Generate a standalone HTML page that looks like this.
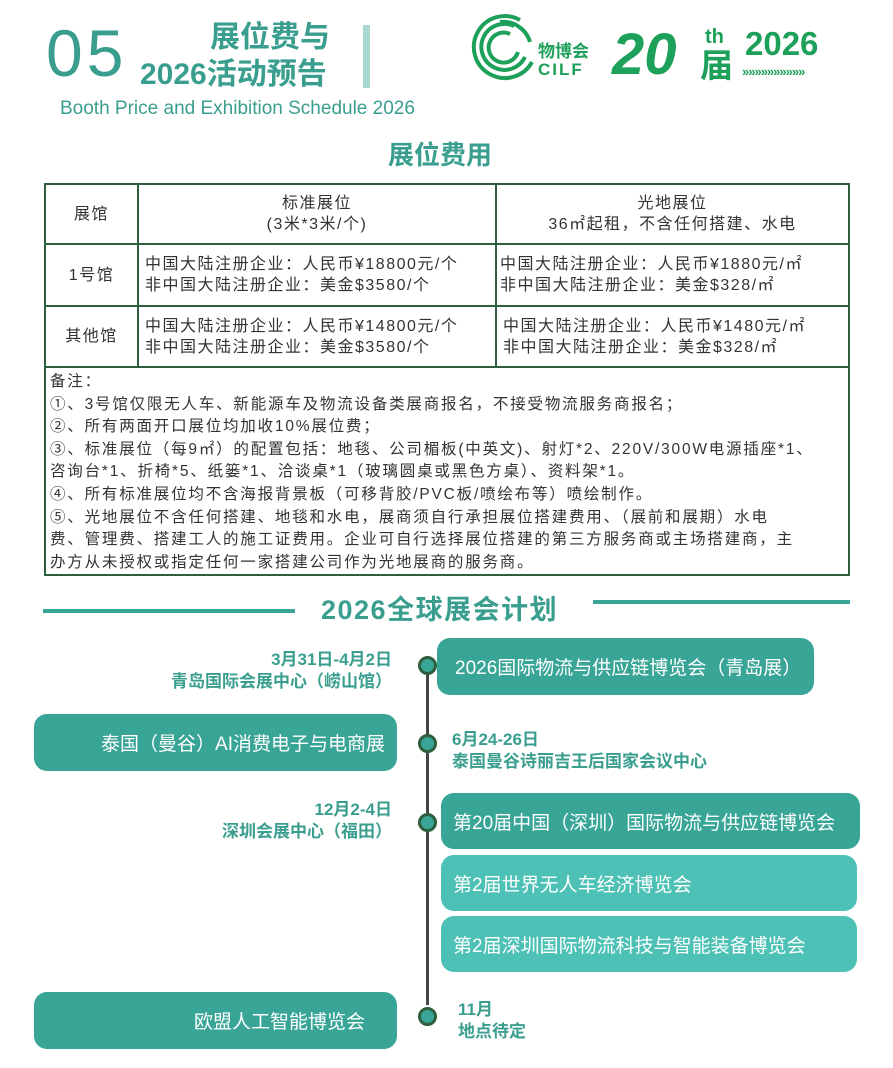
<!DOCTYPE html>
<html><head><meta charset="utf-8"><style>
*{margin:0;padding:0;box-sizing:border-box}
body{width:893px;height:1068px;background:#fff;position:relative;overflow:hidden;font-family:"Liberation Sans","Noto Sans CJK SC",sans-serif}
.a{position:absolute;white-space:nowrap}
.t{color:#3a9e8f}
.g{color:#1da05a;font-weight:bold}
table{position:absolute;left:44px;top:183px;width:806px;border-collapse:collapse;font-size:16px;color:#333;table-layout:fixed}
td{border:2.5px solid #2d5e3e;line-height:21px;padding:0 6px;letter-spacing:1.5px;white-space:nowrap;overflow:hidden}
.box{position:absolute;border-radius:13px;color:#fff;font-size:19px;display:flex;align-items:center;white-space:nowrap}
.d{background:#38a597}.l{background:#4dc1b5}
.dot{position:absolute;width:19px;height:19px;border-radius:50%;background:#38a597;border:3px solid #2d5e3e}
.lab{position:absolute;font-size:17px;font-weight:bold;color:#3a9e8f;line-height:22px;white-space:nowrap}
</style></head><body>
<div class="a t" style="left:46px;top:18px;font-size:66px;line-height:70px;letter-spacing:4px">05</div>
<div class="a t" style="left:210px;top:20px;font-size:30px;font-weight:bold;line-height:36px">展位费与</div>
<div class="a t" style="left:140px;top:57px;font-size:30px;font-weight:bold;line-height:36px">2026活动预告</div>
<div class="a" style="left:363px;top:25px;width:7px;height:63px;background:#a8d8cf"></div>
<div class="a t" style="left:60px;top:97px;font-size:19px;line-height:24px">Booth Price and Exhibition Schedule 2026</div>
<svg class="a" style="left:470px;top:12px" width="70" height="74"><g fill="none" stroke="#1da05a" stroke-width="4"><path d="M50 8 A31 31 0 1 0 62 50"/><path d="M44 14 A23 23 0 1 0 55 45"/><path d="M40 22 A15 15 0 1 0 48 40"/><path d="M30 10 A28 28 0 0 1 60 30"/></g></svg>
<div class="a g" style="left:538px;top:37px;font-size:17px">物博会</div>
<div class="a g" style="left:538px;top:60px;font-size:17px;letter-spacing:2px">CILF</div>
<div class="a g" style="left:612px;top:24px;font-size:58px;font-style:italic;line-height:62px">20</div>
<div class="a g" style="left:705px;top:26px;font-size:20px;line-height:22px">th</div>
<div class="a g" style="left:700px;top:48px;font-size:33px;line-height:36px">届</div>
<div class="a g" style="left:745px;top:26px;font-size:33px;line-height:36px">2026</div>
<div class="a g" style="left:742px;top:64px;font-size:13px;letter-spacing:-1px">»»»»»»»»»»</div>
<div class="a t" style="left:388px;top:138px;font-size:26px;font-weight:bold;line-height:34px">展位费用</div>
<table>
<colgroup><col style="width:93px"><col style="width:358px"><col></colgroup>
<tr style="height:60px"><td style="text-align:center">展馆</td><td style="text-align:center">标准展位<br>(3米*3米/个)</td><td style="text-align:center">光地展位<br>36㎡起租，不含任何搭建、水电</td></tr>
<tr style="height:62px"><td style="text-align:center">1号馆</td><td>中国大陆注册企业：人民币¥18800元/个<br>非中国大陆注册企业：美金$3580/个</td><td style="padding-left:3px">中国大陆注册企业：人民币¥1880元/㎡<br>非中国大陆注册企业：美金$328/㎡</td></tr>
<tr style="height:61px"><td style="text-align:center">其他馆</td><td>中国大陆注册企业：人民币¥14800元/个<br>非中国大陆注册企业：美金$3580/个</td><td>中国大陆注册企业：人民币¥1480元/㎡<br>非中国大陆注册企业：美金$328/㎡</td></tr>
<tr style="height:206px"><td colspan="3" style="padding:3px 4px 0;line-height:22.6px;vertical-align:top;letter-spacing:1.8px;font-size:15.5px">备注：<br>①、3号馆仅限无人车、新能源车及物流设备类展商报名，不接受物流服务商报名；<br>②、所有两面开口展位均加收10%展位费；<br>③、标准展位（每9㎡）的配置包括：地毯、公司楣板(中英文)、射灯*2、220V/300W电源插座*1、<br>咨询台*1、折椅*5、纸篓*1、洽谈桌*1（玻璃圆桌或黑色方桌）、资料架*1。<br>④、所有标准展位均不含海报背景板（可移背胶/PVC板/喷绘布等）喷绘制作。<br>⑤、光地展位不含任何搭建、地毯和水电，展商须自行承担展位搭建费用、（展前和展期）水电<br>费、管理费、搭建工人的施工证费用。企业可自行选择展位搭建的第三方服务商或主场搭建商，主<br>办方从未授权或指定任何一家搭建公司作为光地展商的服务商。</td></tr>
</table>
<div class="a" style="left:43px;top:609px;width:252px;height:4px;background:#38a597"></div>
<div class="a" style="left:593px;top:600px;width:257px;height:4px;background:#38a597"></div>
<div class="a t" style="left:321px;top:593px;font-size:27px;font-weight:bold;line-height:34px;letter-spacing:1.5px">2026全球展会计划</div>
<div class="a" style="left:426px;top:670px;width:3px;height:335px;background:#444"></div>
<div class="dot" style="left:418px;top:656px"></div>
<div class="dot" style="left:418px;top:734px"></div>
<div class="dot" style="left:418px;top:813px"></div>
<div class="dot" style="left:418px;top:1007px"></div>
<div class="box d" style="left:437px;top:638px;width:377px;height:57px;padding-left:18px">2026国际物流与供应链博览会（青岛展）</div>
<div class="box d" style="left:34px;top:714px;width:363px;height:57px;justify-content:flex-end;padding-right:12px">泰国（曼谷）AI消费电子与电商展</div>
<div class="box d" style="left:441px;top:793px;width:419px;height:56px;padding-left:12px">第20届中国（深圳）国际物流与供应链博览会</div>
<div class="box l" style="left:441px;top:855px;width:416px;height:56px;padding-left:12px">第2届世界无人车经济博览会</div>
<div class="box l" style="left:441px;top:916px;width:416px;height:56px;padding-left:12px">第2届深圳国际物流科技与智能装备博览会</div>
<div class="box d" style="left:34px;top:992px;width:363px;height:57px;justify-content:flex-end;padding-right:32px">欧盟人工智能博览会</div>
<div class="lab" style="right:501px;top:649px;text-align:right">3月31日-4月2日<br>青岛国际会展中心（崂山馆）</div>
<div class="lab" style="left:452px;top:729px">6月24-26日<br>泰国曼谷诗丽吉王后国家会议中心</div>
<div class="lab" style="right:501px;top:799px;text-align:right">12月2-4日<br>深圳会展中心（福田）</div>
<div class="lab" style="left:458px;top:999px">11月<br>地点待定</div>
</body></html>
